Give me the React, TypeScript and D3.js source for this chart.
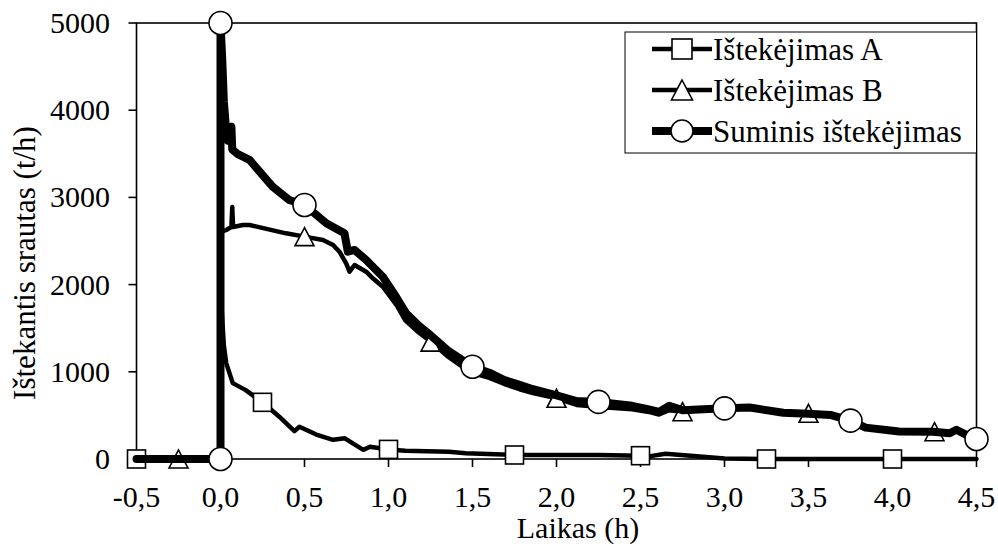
import React from "react";
import * as d3 from "d3";

// Time axis (h) and flow (t/h) for each outflow series
const timeA = [-0.5, 0, 0.001, 0.02, 0.034, 0.073, 0.15, 0.25, 0.35, 0.44, 0.47, 0.57, 0.67, 0.74, 0.85, 0.89, 1.0, 1.1, 1.36, 1.46, 1.75, 2.25, 2.5, 2.55, 2.65, 3.0, 3.25, 4.5];
const flowA = [0, 0, 1900, 1300, 1100, 870, 790, 650, 485, 320, 370, 280, 220, 237, 105, 140, 110, 95, 84, 65, 46, 46, 38, 30, 60, 5, 0, 0];

const timeB = [-0.5, 0, 0.001, 0.034, 0.065, 0.07, 0.075, 0.133, 0.173, 0.39, 0.5, 0.61, 0.67, 0.708, 0.748, 0.768, 0.798, 0.867, 0.907, 0.966, 1.05, 1.1, 1.18, 1.264, 1.35, 1.49, 1.6, 1.69, 1.78, 1.86, 2.0, 2.12, 2.3, 2.45, 2.55, 2.61, 2.67, 2.75, 3.0, 3.15, 3.35, 3.5, 3.63, 3.75, 3.84, 4.04, 4.24, 4.34, 4.38, 4.46, 4.5];
const flowB = [0, 0, 2600, 2626, 2660, 2890, 2660, 2683, 2683, 2588, 2550, 2511, 2454, 2377, 2244, 2148, 2225, 2148, 2072, 1976, 1760, 1590, 1450, 1327, 1180, 990, 930, 860, 800, 755, 696, 620, 590, 570, 540, 510, 560, 542, 578, 590, 530, 524, 505, 440, 360, 315, 313, 295, 335, 256, 230];

const timeSum = [-0.5, 0, 0, 0.01, 0.02, 0.035, 0.045, 0.05, 0.065, 0.07, 0.1, 0.173, 0.31, 0.41, 0.5, 0.63, 0.67, 0.738, 0.758, 0.798, 0.867, 0.966, 1.045, 1.105, 1.18, 1.25, 1.35, 1.5, 1.6, 1.69, 1.78, 1.86, 2.0, 2.12, 2.25, 2.45, 2.55, 2.61, 2.67, 2.75, 3.0, 3.15, 3.35, 3.5, 3.63, 3.75, 3.84, 4.04, 4.24, 4.34, 4.38, 4.46, 4.5];
const flowSum = [0, 0, 5000, 4600, 4100, 3735, 3650, 3800, 3811, 3550, 3500, 3430, 3123, 2970, 2913, 2703, 2660, 2588, 2377, 2397, 2282, 2090, 1861, 1671, 1530, 1420, 1250, 1058, 990, 906, 850, 800, 730, 665, 655, 610, 570, 540, 610, 560, 581, 590, 530, 520, 505, 440, 360, 315, 313, 295, 335, 256, 230];

// Marker positions along each series
const markTimeA = [-0.5, 0.25, 1.0, 1.75, 2.5, 3.25, 4.0];
const markFlowA = [0, 650, 110, 46, 38, 0, 0];
const markTimeB = [-0.25, 0.5, 1.25, 2.0, 2.75, 3.5, 4.25];
const markFlowB = [0, 2550, 1340, 696, 542, 524, 313];
const markTimeSum = [0, 0, 0.5, 1.5, 2.25, 3.0, 3.75, 4.5];
const markFlowSum = [0, 5000, 2913, 1058, 655, 581, 440, 230];

const xTicks = [-0.5, 0, 0.5, 1, 1.5, 2, 2.5, 3, 3.5, 4, 4.5];
const yTicks = [0, 1000, 2000, 3000, 4000, 5000];
const seriesNames = ["Ištekėjimas A", "Ištekėjimas B", "Suminis ištekėjimas"];

const W = 998;
const H = 547;
const FONT = "Liberation Serif, Times New Roman, serif";

const x = d3.scaleLinear().domain([-0.5, 4.5]).range([136.5, 976.5]);
const y = d3.scaleLinear().domain([0, 5000]).range([459, 23]);

const zip = (xs: number[], ys: number[]) => xs.map((v, i) => [v, ys[i]] as [number, number]);
const line = d3
  .line<[number, number]>()
  .x((d) => x(d[0]))
  .y((d) => y(d[1]));

const fmtX = (v: number) => d3.format(".1f")(v).replace(".", ",").replace("−", "-");

type Shape = "square" | "triangle" | "circle";

function Marker({ cx, cy, shape, size }: { cx: number; cy: number; shape: Shape; size: number }) {
  const common = { fill: "#fff", stroke: "#000", strokeWidth: 1.6 };
  if (shape === "square") {
    return <rect x={cx - size / 2} y={cy - size / 2} width={size} height={size} {...common} />;
  }
  if (shape === "triangle") {
    const h = size;
    const w = size * 1.05;
    const pts = `${cx},${cy - h / 2} ${cx + w / 2},${cy + h / 2} ${cx - w / 2},${cy + h / 2}`;
    return <polygon points={pts} {...common} />;
  }
  return <circle cx={cx} cy={cy} r={size / 2} {...common} />;
}

export default function App() {
  const series = [
    { t: timeA, f: flowA, mt: markTimeA, mf: markFlowA, shape: "square" as Shape, width: 4.5, size: 18 },
    { t: timeB, f: flowB, mt: markTimeB, mf: markFlowB, shape: "triangle" as Shape, width: 4.5, size: 18 },
    { t: timeSum, f: flowSum, mt: markTimeSum, mf: markFlowSum, shape: "circle" as Shape, width: 8, size: 23 },
  ];

  const legendX = 625;
  const legendY = 32;
  const legendW = 976.5 - 625;
  const legendH = 121;
  const rowY = [49, 90, 131];

  return (
    <div style={{ position: "absolute", left: 0, top: 0, width: W, height: H, fontFamily: FONT }}>
      <svg width={W} height={H} fontFamily={FONT} style={{ display: "block", background: "#fff" }}>
        <rect x={0} y={0} width={W} height={H} fill="#fff" />

        {/* plot frame */}
        <rect x={x(-0.5)} y={y(5000)} width={x(4.5) - x(-0.5)} height={y(0) - y(5000)} fill="none" stroke="#000" strokeWidth={1.6} />

        {/* y axis ticks and labels */}
        {yTicks.map((v) => (
          <g key={`y${v}`}>
            <line x1={x(-0.5) - 8} x2={x(-0.5)} y1={y(v)} y2={y(v)} stroke="#000" strokeWidth={1.6} />
            <text x={110} y={y(v) + 10} textAnchor="end" fontSize={30} fontFamily={FONT}>
              {v}
            </text>
          </g>
        ))}

        {/* x axis ticks and labels */}
        {xTicks.map((v) => (
          <g key={`x${v}`}>
            <line x1={x(v)} x2={x(v)} y1={y(0)} y2={y(0) + 8} stroke="#000" strokeWidth={1.6} />
            <text x={x(v)} y={507} textAnchor="middle" fontSize={30} fontFamily={FONT}>
              {fmtX(v)}
            </text>
          </g>
        ))}

        <text x={578} y={538} textAnchor="middle" fontSize={30} fontFamily={FONT}>
          Laikas (h)
        </text>
        <text transform={`translate(35, 263) rotate(-90)`} textAnchor="middle" fontSize={31} fontFamily={FONT}>
          Ištekantis srautas (t/h)
        </text>

        {/* series lines and markers */}
        {series.map((s, i) => (
          <g key={`s${i}`}>
            <path
              d={line(zip(s.t, s.f)) || ""}
              fill="none"
              stroke="#000"
              strokeWidth={s.width}
              strokeLinejoin="round"
              strokeLinecap="round"
            />
            {zip(s.mt, s.mf).map((p, j) => (
              <Marker key={j} cx={x(p[0])} cy={y(p[1])} shape={s.shape} size={s.size} />
            ))}
          </g>
        ))}

        {/* legend */}
        <rect x={legendX} y={legendY} width={legendW} height={legendH} fill="#fff" stroke="#000" strokeWidth={1} />
        {series.map((s, i) => (
          <g key={`l${i}`}>
            <line x1={652} x2={712} y1={rowY[i]} y2={rowY[i]} stroke="#000" strokeWidth={s.width} />
            <Marker cx={682} cy={rowY[i]} shape={s.shape} size={s.shape === "circle" ? 22 : 20} />
            <text x={713} y={rowY[i] + 11} fontSize={31} fontFamily={FONT}>
              {seriesNames[i]}
            </text>
          </g>
        ))}
      </svg>
    </div>
  );
}
